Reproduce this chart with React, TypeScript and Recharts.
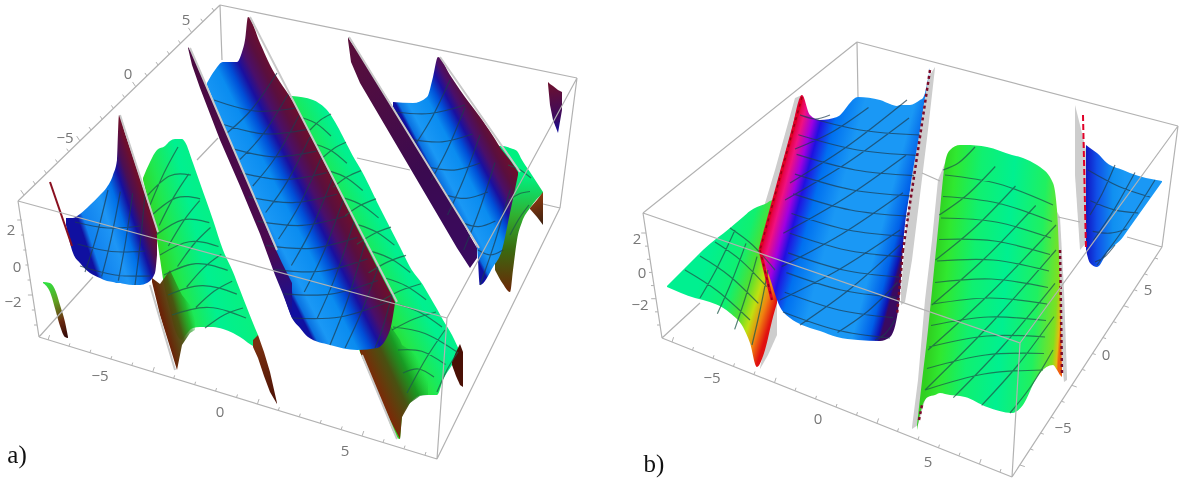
import React from "react";
import { ComposedChart, Area, Line, Scatter, XAxis, YAxis } from "recharts";

// everything in page pixels: the axes below map 1:1 to the image
type Row = number[];

// surfaces as [x, upper y, lower y]
const leftSliverA: Row[] = [[43, 282, 283], [50, 283, 292], [56, 292, 312], [60, 305, 326], [65, 322, 337], [68, 337, 338]];
const valleyOneA: Row[] = [[66, 218, 225], [73, 218, 253], [80, 214, 263], [90, 205, 273], [100, 195, 278], [107, 187, 281], [113, 175, 282], [117, 160, 283], [119, 115, 283], [125, 133, 284], [133, 157, 285], [140, 178, 285], [147, 200, 283], [155, 224, 273], [157, 232, 255]];
const ridgeOneA: Row[] = [[143, 178, 180], [150, 162, 208], [157, 150, 240], [165, 146, 290], [170, 141, 310], [175, 139, 330], [182, 139, 340], [185, 142, 336], [193, 163, 328], [200, 183, 327], [213, 220, 327], [223, 250, 329], [233, 272, 333], [240, 290, 337], [255, 328, 347], [258, 335, 348]];
const ridgeOneShadeA: Row[] = [[152, 278, 282], [160, 284, 315], [170, 270, 347], [177, 285, 370], [182, 295, 345], [190, 305, 333], [195, 320, 330]];
const ridgeOneFootA: Row[] = [[253, 340, 347], [258, 335, 358], [264, 352, 376], [270, 372, 392], [277, 403, 404]];
const ridgeTwoA: Row[] = [[292, 96, 105], [313, 100, 145], [325, 108, 170], [357, 163, 345], [360, 168, 352], [380, 208, 397], [400, 247, 439], [402, 251, 417], [410, 267, 403], [423, 285, 395], [430, 297, 395], [437, 309, 395], [443, 320, 380], [452, 335, 365], [460, 352, 353]];
const ridgeTwoShadeA: Row[] = [[360, 330, 352], [375, 330, 386], [390, 325, 420], [400, 340, 439], [402, 345, 417], [410, 350, 403], [420, 360, 396], [428, 375, 395]];
const ridgeTwoWedgeA: Row[] = [[452, 362, 365], [456, 352, 376], [460, 344, 385], [463, 352, 387]];
const valleyTwoA: Row[] = [[207, 83, 85], [215, 70, 105], [223, 62, 127], [237, 62, 166], [242, 52, 180], [245, 40, 188], [248, 17, 196], [260, 43, 229], [270, 65, 256], [280, 82, 283], [292, 100, 318], [300, 115, 328], [308, 131, 337], [330, 174, 345], [357, 228, 350], [377, 267, 348], [390, 292, 330], [395, 302, 303]];
const valleyTwoStripA: Row[] = [[188, 47, 48], [192, 53, 65], [200, 71, 88], [220, 117, 140], [240, 164, 186], [260, 212, 234], [275, 248, 275], [282, 263, 292], [292, 283, 318]];
const ridgeThreeA: Row[] = [[495, 146, 270], [503, 146, 284], [510, 148, 292], [513, 149, 270], [517, 151, 240], [522, 160, 222], [530, 172, 208], [543, 192, 193]];
const ridgeThreeWedgeA: Row[] = [[530, 208, 209], [537, 200, 217], [543, 192, 225]];
const valleyThreeA: Row[] = [[393, 102, 107], [413, 103, 141], [427, 97, 164], [433, 77, 174], [438, 57, 182], [450, 75, 202], [460, 90, 219], [477, 113, 248], [480, 117, 285], [493, 136, 267], [502, 150, 250], [510, 160, 213], [518, 172, 175]];
const valleyThreeStripA: Row[] = [[348, 37, 40], [351, 42, 62], [360, 55, 83], [380, 87, 117], [400, 118, 151], [420, 151, 185], [440, 183, 219], [457, 211, 248], [470, 236, 268], [477, 248, 258]];
const cornerPieceA: Row[] = [[548, 82, 84], [550, 84, 105], [553, 86, 120], [558, 90, 133], [562, 92, 110]];

const greyWallB: Row[] = [[753, 247, 250], [760, 220, 255], [775, 170, 200], [795, 98, 125], [802, 95, 97]];
const greyFootB: Row[] = [[760, 368, 369], [768, 330, 355], [777, 300, 335]];
const ridgeLeftB: Row[] = [[667, 286, 287], [695, 258, 298], [703, 250, 300], [730, 228, 313], [743, 217, 327], [750, 211, 343], [757, 207, 367], [765, 204, 350], [773, 200, 317], [777, 200, 303]];
const greyRightB: Row[] = [[901, 290, 305], [905, 240, 302], [912, 175, 260], [920, 130, 195], [928, 78, 130], [935, 67, 68]];
const valleyB: Row[] = [[760, 247, 255], [768, 220, 273], [780, 173, 307], [790, 137, 318], [802, 95, 325], [810, 115, 328], [820, 120, 331], [837, 117, 337], [858, 97, 340], [880, 100, 341], [890, 104, 337], [897, 106, 317], [900, 105, 292], [903, 105, 247], [910, 105, 190], [920, 100, 130], [923, 98, 110], [930, 68, 70]];
const greyMidLeftB: Row[] = [[912, 427, 429], [918, 380, 425], [925, 300, 400], [932, 240, 320], [938, 180, 250], [945, 163, 180]];
const greyMidRightB: Row[] = [[1056, 210, 260], [1060, 217, 340], [1064, 290, 382], [1067, 377, 380]];
const ridgeMidB: Row[] = [[917, 425, 430], [922, 381, 407], [928, 330, 397], [935, 260, 395], [940, 210, 393], [945, 163, 394], [950, 150, 395], [960, 145, 396], [965, 145, 397], [987, 147, 407], [1012, 155, 413], [1023, 158, 405], [1037, 165, 377], [1040, 167, 373], [1053, 183, 365], [1057, 210, 370], [1060, 283, 375], [1062, 370, 377]];
const greyTailB: Row[] = [[1075, 105, 175], [1080, 125, 250], [1086, 150, 243]];
const valleyTailB: Row[] = [[1086, 145, 250], [1090, 148, 263], [1097, 153, 267], [1107, 163, 253], [1123, 170, 237], [1130, 173, 227], [1162, 181, 182]];

// frame edges as x0,y0,x1,y1
const frameA: Row[] = [[220, 5, 577, 78], [18, 201, 220, 5], [18, 201, 39, 337], [39, 337, 437, 459], [437, 459, 560, 208], [560, 208, 577, 78], [437, 459, 447, 318], [447, 318, 577, 78], [18, 201, 447, 318], [220, 5, 222, 60], [39, 337, 93, 277], [197, 160, 218, 138], [357, 158, 410, 170], [543, 204, 560, 208]];
const frameB: Row[] = [[857, 42, 1178, 126], [643, 213, 857, 42], [643, 213, 662, 338], [662, 338, 1012, 477], [1012, 477, 1162, 247], [1162, 247, 1178, 126], [1012, 477, 1020, 343], [1020, 343, 1178, 126], [643, 213, 1020, 343], [857, 42, 858, 97], [662, 338, 700, 303], [922, 173, 940, 181], [1058, 217, 1080, 222], [1127, 237, 1162, 247]];

// axis runs: x0,y0,x1,y1,tick count,tick dx,tick dy
const tickRuns: Row[] = [
  [24, 195, 214, 11, 18, -2, -3],
  [22, 220, 37, 325, 8, -3, 0],
  [48, 340, 425, 455, 19, 1, -3],
  [646, 233, 660, 325, 8, -3, 0],
  [672, 342, 1000, 472, 17, 1, -3],
  [1020, 465, 1155, 258, 14, 3, 1],
];

const axisLabels = [
  { x: 65, y: 143, text: "−5" }, { x: 128, y: 79, text: "0" }, { x: 186, y: 25, text: "5" },
  { x: 11, y: 235, text: "2" }, { x: 17, y: 272, text: "0" }, { x: 13, y: 307, text: "−2" },
  { x: 100, y: 381, text: "−5" }, { x: 220, y: 417, text: "0" }, { x: 345, y: 456, text: "5" },
  { x: 637, y: 244, text: "2" }, { x: 642, y: 278, text: "0" }, { x: 640, y: 310, text: "−2" },
  { x: 712, y: 383, text: "−5" }, { x: 818, y: 424, text: "0" }, { x: 928, y: 467, text: "5" },
  { x: 1063, y: 433, text: "−5" }, { x: 1106, y: 360, text: "0" }, { x: 1148, y: 295, text: "5" },
];
const panelLabels = [{ x: 17, y: 463, text: "a)" }, { x: 654, y: 472, text: "b)" }];

const toBand = (rows: Row[]) => rows.map(([x, top, bottom]) => ({ x, range: [bottom, top] }));

const toSegments = (rows: Row[]) =>
  rows.flatMap(([x0, y0, x1, y1]) => [{ x: x0, y: y0 }, { x: x1, y: y1 }, { x: x1, y: null }]);

const toTicks = (runs: Row[]) =>
  runs.flatMap(([x0, y0, x1, y1, n, dx, dy]) =>
    Array.from({ length: n }, (_, i) => {
      const x = x0 + ((x1 - x0) * i) / (n - 1);
      const y = y0 + ((y1 - y0) * i) / (n - 1);
      const k = i % 5 === 0 ? 1.6 : 1;
      return [{ x, y }, { x: x + dx * k, y: y + dy * k }, { x, y: null }];
    }).flat()
  );

// mesh curves between two runs, bowed by sag at the middle
const spans = (a: Row, b: Row, n: number, sag: number) =>
  Array.from({ length: n }, (_, i) => {
    const t = n > 1 ? i / (n - 1) : 0;
    const p = [a[0] + (a[2] - a[0]) * t, a[1] + (a[3] - a[1]) * t];
    const q = [b[0] + (b[2] - b[0]) * t, b[1] + (b[3] - b[1]) * t];
    return [
      { x: p[0], y: p[1] },
      { x: (p[0] + q[0]) / 2, y: (p[1] + q[1]) / 2 + sag },
      { x: q[0], y: q[1] },
      { x: q[0], y: null },
    ];
  }).flat();

const meshBlueA = [
  ...spans([75, 222, 80, 266], [140, 226, 150, 276], 3, 4),
  ...spans([85, 272, 135, 285], [108, 190, 145, 195], 4, 5),
  ...spans([214, 100, 292, 318], [296, 108, 388, 302], 10, 7),
  ...spans([227, 133, 330, 345], [277, 73, 365, 243], 9, 6),
  ...spans([345, 348, 375, 348], [378, 268, 392, 295], 2, 4),
  ...spans([395, 112, 478, 250], [465, 105, 503, 250], 6, 5),
  ...spans([415, 145, 480, 285], [450, 80, 510, 190], 5, 4),
];
const meshGreenA = [
  ...spans([148, 195, 172, 315], [191, 175, 246, 318], 7, -9),
  ...spans([150, 205, 205, 328], [178, 147, 243, 308], 7, -3),
  ...spans([303, 118, 400, 305], [331, 136, 442, 327], 8, -3),
  ...spans([393, 327, 403, 373], [457, 352, 434, 377], 3, -6),
  ...spans([310, 130, 392, 330], [331, 114, 436, 312], 8, -2),
  ...spans([407, 393, 437, 392], [445, 330, 458, 352], 2, -3),
  ...spans([508, 165, 510, 235], [531, 178, 529, 205], 3, -2),
];
const meshBlueB = [
  ...spans([800, 115, 783, 312], [920, 135, 890, 338], 11, 5),
  ...spans([800, 115, 790, 183], [830, 115, 907, 100], 3, 4),
  ...spans([785, 200, 780, 300], [909, 118, 900, 230], 4, 4),
  ...spans([800, 325, 875, 340], [900, 245, 895, 320], 3, 4),
  ...spans([1088, 170, 1095, 262], [1150, 197, 1115, 245], 4, 3),
  ...spans([1090, 215, 1097, 265], [1115, 165, 1155, 180], 3, 3),
];
const meshGreenB = [
  ...spans([685, 270, 730, 228], [750, 320, 775, 270], 4, -4),
  ...spans([700, 298, 752, 345], [735, 230, 768, 270], 4, 3),
  ...spans([945, 175, 925, 390], [1053, 205, 1043, 370], 11, -6),
  ...spans([943, 170, 928, 350], [975, 147, 1056, 225], 5, 4),
  ...spans([925, 390, 1010, 413], [1056, 250, 1053, 350], 4, 4),
];

// crest and wall edges drawn as lines over the surfaces
const greyEdges: Row[] = [[120, 115, 158, 232], [250, 17, 397, 302], [190, 48, 277, 250], [349, 37, 479, 248], [440, 57, 520, 172], [150, 285, 175, 370], [362, 355, 397, 439]];
const redEdges: Row[] = [[802, 97, 760, 250], [760, 250, 772, 300]];
const tailEdges: Row[] = [[1083, 115, 1086, 250]];
const darkRedEdges: Row[] = [[50, 182, 72, 246]];
const maroonEdges: Row[] = [[930, 70, 903, 250], [903, 250, 897, 315], [919, 420, 922, 405], [1060, 250, 1062, 375]];

function Label({ cx, cy, payload, size, fill, family }: any) {
  return (
    <text x={cx} y={cy} textAnchor="middle" fontSize={size} fill={fill} fontFamily={family}>
      {payload.text}
    </text>
  );
}

const band = (rows: Row[], fill: string, curve: any = "monotone") => (
  <Area data={toBand(rows)} dataKey="range" type={curve} stroke="none" fill={fill} fillOpacity={1} dot={false} activeDot={false} isAnimationActive={false} />
);

const line = (data: any[], stroke: string, width: number, curve: any = "linear", extra: any = {}) => (
  <Line data={data} dataKey="y" type={curve} stroke={stroke} strokeWidth={width} dot={false} activeDot={false} isAnimationActive={false} {...extra} />
);

const grad = (id: string, p: number[], stops: [number, string, number?][]) => (
  <linearGradient id={id} gradientUnits="userSpaceOnUse" x1={p[0]} y1={p[1]} x2={p[2]} y2={p[3]}>
    {stops.map(([o, c, a], i) => (
      <stop key={i} offset={o} stopColor={c} stopOpacity={a ?? 1} />
    ))}
  </linearGradient>
);

const wallStops: [number, string][] = [[0, "#6e0f2c"], [0.14, "#5a0f3e"], [0.26, "#4a0f6a"], [0.36, "#1a10a0"], [0.47, "#0050d8"], [0.6, "#0a8cf0"], [0.85, "#1a98f5"], [0.96, "#0a70e0"], [1, "#1010a0"]];
const ridgeStops: [number, string][] = [[0, "#30d828"], [0.15, "#20e850"], [0.4, "#00f090"], [0.7, "#08f080"], [0.9, "#30e840"], [1, "#50e020"]];

export default function App() {
  return (
    <div style={{ position: "absolute", left: 0, top: 0, width: 1182, height: 486, background: "#fff", filter: "blur(0.45px)" }}>
      <ComposedChart width={1182} height={486} margin={{ top: 0, right: 0, bottom: 0, left: 0 }} data={[]}>
        <defs>
          {grad("gSliver", [43, 285, 68, 337], [[0, "#30e040"], [0.35, "#60a020"], [0.7, "#6a2a10"], [1, "#300808"]])}
          {grad("gValleyOne", [145, 200, 79, 222], [[0, "#6e0f2c"], [0.14, "#4a0f55"], [0.25, "#1510a0"], [0.4, "#0070e8"], [0.6, "#1e96f5"], [0.92, "#1080ee"], [1, "#1010a0"]])}
          {grad("gRidgeOne", [150, 215, 250, 190], ridgeStops)}
          {grad("gShadeOne", [165, 325, 195, 317], [[0, "#6a2408"], [0.45, "#4a5010", 0.95], [0.8, "#20a020", 0.6], [1, "#20c040", 0]])}
          {grad("gBrown", [255, 345, 277, 403], [[0, "#7a3010"], [1, "#4a1005"]])}
          {grad("gRidgeTwo", [300, 160, 400, 110], ridgeStops)}
          {grad("gShadeTwo", [380, 395, 425, 374], [[0, "#7a2a08"], [0.4, "#4a4a10", 0.95], [0.7, "#108020", 0.7], [1, "#10b040", 0]])}
          {grad("gValleyTwo", [343, 200, 263, 240], wallStops)}
          {grad("gStrip", [190, 50, 292, 318], [[0, "#4a0a40"], [0.75, "#4a0a50"], [1, "#1010a0"]])}
          {grad("gRidgeThree", [515, 175, 510, 290], [[0, "#00f080"], [0.35, "#30b030"], [0.65, "#3a6a10"], [1, "#6a2a08"]])}
          {grad("gWedge", [530, 200, 543, 225], [[0, "#8a3a10"], [1, "#3a2010"]])}
          {grad("gValleyThree", [505, 150, 438, 185], wallStops)}
          {grad("gStripThree", [350, 40, 477, 258], [[0, "#5a0f3a"], [0.6, "#3a0a50"], [1, "#3a0a60"]])}
          {grad("gCorner", [550, 85, 558, 133], [[0, "#6a1030"], [0.7, "#3a0a60"], [1, "#1010a0"]])}
          {grad("gRidgeLeftB", [700, 280, 776, 304], [[0, "#00f090"], [0.4, "#10f070"], [0.6, "#50e030"], [0.75, "#c0e010"], [0.88, "#f08010"], [1, "#e01010"]])}
          {grad("gValleyB", [774, 200, 908, 236], [[0, "#e00030"], [0.05, "#f01080"], [0.12, "#a000e0"], [0.18, "#2010e0"], [0.28, "#0070f0"], [0.45, "#1a98f5"], [0.8, "#1a98f5"], [0.92, "#0060e8"], [0.98, "#1010b0"], [1, "#3a0a60"]])}
          {grad("gRidgeMidB", [933, 280, 1064, 290], [[0, "#30d020"], [0.1, "#30e830"], [0.3, "#10f070"], [0.55, "#00f090"], [0.8, "#20f060"], [0.95, "#80e020"], [0.985, "#e0c010"], [1, "#f06010"]])}
          {grad("gTailB", [1085, 200, 1125, 200], [[0, "#1010c0"], [0.3, "#1050e8"], [0.7, "#1090f0"], [1, "#1a98f5"]])}
        </defs>
        <XAxis type="number" dataKey="x" domain={[0, 1182]} hide allowDataOverflow />
        <YAxis type="number" domain={[0, 486]} reversed hide allowDataOverflow />

        {band(leftSliverA, "url(#gSliver)")}
        {band(ridgeOneA, "url(#gRidgeOne)")}
        {band(ridgeOneShadeA, "url(#gShadeOne)", "linear")}
        {band(ridgeOneFootA, "url(#gBrown)", "linear")}
        {band(valleyOneA, "url(#gValleyOne)")}
        {band(ridgeTwoA, "url(#gRidgeTwo)")}
        {band(ridgeTwoShadeA, "url(#gShadeTwo)", "linear")}
        {band(ridgeTwoWedgeA, "url(#gBrown)", "linear")}
        {band(valleyTwoA, "url(#gValleyTwo)")}
        {band(valleyTwoStripA, "url(#gStrip)", "linear")}
        {band(ridgeThreeA, "url(#gRidgeThree)")}
        {band(ridgeThreeWedgeA, "url(#gWedge)", "linear")}
        {band(valleyThreeA, "url(#gValleyThree)")}
        {band(valleyThreeStripA, "url(#gStripThree)", "linear")}
        {band(cornerPieceA, "url(#gCorner)", "linear")}

        {band(greyWallB, "#cdcdcd", "linear")}
        {band(greyFootB, "#cdcdcd", "linear")}
        {band(ridgeLeftB, "url(#gRidgeLeftB)")}
        {band(greyRightB, "#cdcdcd", "linear")}
        {band(valleyB, "url(#gValleyB)")}
        {band(greyMidLeftB, "#cdcdcd", "linear")}
        {band(greyMidRightB, "#cdcdcd", "linear")}
        {band(ridgeMidB, "url(#gRidgeMidB)")}
        {band(greyTailB, "#cdcdcd", "linear")}
        {band(valleyTailB, "url(#gTailB)")}

        {line(meshBlueA, "#1c3c50", 1.2, "natural", { strokeOpacity: 0.7 })}
        {line(meshGreenA, "#1d5a4a", 1.2, "natural", { strokeOpacity: 0.75 })}
        {line(meshBlueB, "#1c3c50", 1.2, "natural", { strokeOpacity: 0.7 })}
        {line(meshGreenB, "#1d5a4a", 1.2, "natural", { strokeOpacity: 0.75 })}

        {line(toSegments(greyEdges), "#c9c9c9", 2)}
        {line(toSegments(redEdges), "#e00028", 3)}
        {line(toSegments(redEdges), "#980018", 1.5, "linear", { strokeDasharray: "3 4" })}
        {line(toSegments(tailEdges), "#e00028", 2, "linear", { strokeDasharray: "6 3" })}
        {line(toSegments(darkRedEdges), "#8a1020", 2)}
        {line(toSegments(maroonEdges), "#7a0a28", 2.5, "linear", { strokeDasharray: "3 3" })}

        {line(toSegments(frameA), "#b2b2b2", 1.2)}
        {line(toSegments(frameB), "#b2b2b2", 1.2)}
        {line(toTicks(tickRuns), "#b2b2b2", 1)}

        <Scatter data={axisLabels} dataKey="y" isAnimationActive={false} shape={(p: any) => <Label {...p} size={15} fill="#777" family="'Open Sans', sans-serif" />} />
        <Scatter data={panelLabels} dataKey="y" isAnimationActive={false} shape={(p: any) => <Label {...p} size={25} fill="#111" family="'Liberation Serif', serif" />} />
      </ComposedChart>
    </div>
  );
}
